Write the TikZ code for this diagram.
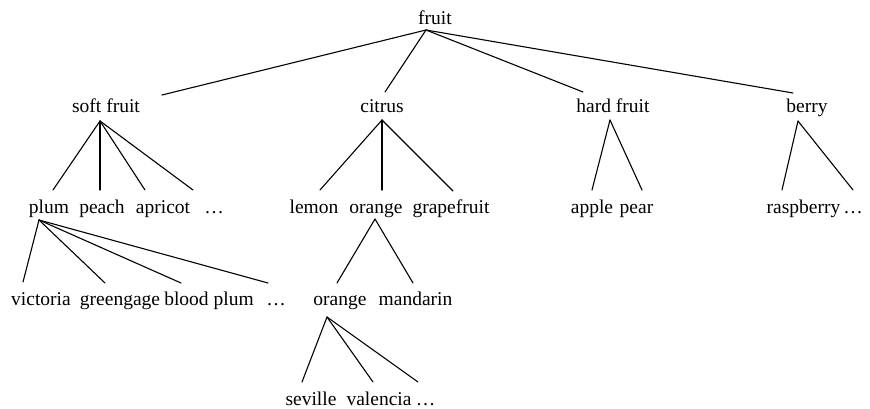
\documentclass[tikz,border=0pt]{standalone}
\usepackage{fontspec}
\setmainfont{Liberation Serif}
\begin{document}
\begin{tikzpicture}[x=1pt,y=1pt,
  lbl/.style={anchor=base,inner sep=0pt,outer sep=0pt,font=\fontsize{19.5}{23}\selectfont},
  edge/.style={line width=1.1pt,line cap=round,line join=round}]
\useasboundingbox (0,0) rectangle (870,-409);
% level 0
\node[lbl] (fruit) at (435,-25) {fruit};
% level 1
\node[lbl] (soft) at (106,-113) {soft fruit};
\node[lbl] (citrus) at (382,-113) {citrus};
\node[lbl] (hard) at (613,-113) {hard fruit};
\node[lbl] (berry) at (807,-113) {berry};
% level 2
\node[lbl] (plum) at (49,-213) {plum};
\node[lbl] (peach) at (102,-213) {peach};
\node[lbl] (apricot) at (163,-213) {apricot};
\node[lbl] (sdots) at (214,-213) {\ldots};
\node[lbl] (lemon) at (314,-213) {lemon};
\node[lbl] (orange) at (376,-213) {orange};
\node[lbl] (grapefruit) at (451,-213) {grapefruit};
\node[lbl] (apple) at (592,-213) {apple};
\node[lbl] (pear) at (636.5,-213) {pear};
\node[lbl] (raspberry) at (803.5,-213) {raspberry};
\node[lbl] (bdots) at (853,-213) {\ldots};
% level 3
\node[lbl] (victoria) at (41,-305) {victoria};
\node[lbl] (greengage) at (120,-305) {greengage};
\node[lbl] (blood) at (209,-305) {blood plum};
\node[lbl] (pdots) at (276,-305) {\ldots};
\node[lbl] (orange2) at (340,-305) {orange};
\node[lbl] (mandarin) at (415.5,-305) {mandarin};
% level 4
\node[lbl] (seville) at (311,-405) {seville};
\node[lbl] (valencia) at (379,-405) {valencia};
\node[lbl] (odots) at (425.5,-405) {\ldots};
% connectors level 0 -> 1
\draw[edge] ([shift={(-9,-5)}]fruit.base) -- ([shift={(56,18)}]soft.base);
\draw[edge] ([shift={(-9,-5)}]fruit.base) -- ([shift={(3,21)}]citrus.base);
\draw[edge] ([shift={(-9,-5)}]fruit.base) -- ([shift={(-30,21)}]hard.base);
\draw[edge] ([shift={(-9,-5)}]fruit.base) -- ([shift={(-14,20)}]berry.base);
% soft fruit
\draw[edge] ([shift={(-6,-8)}]soft.base) -- ([shift={(4,23)}]plum.base);
\draw[edge] ([shift={(-6,-8)}]soft.base) -- ([shift={(-2,23)}]peach.base);
\draw[edge] ([shift={(-6,-8)}]soft.base) -- ([shift={(-18,23)}]apricot.base);
\draw[edge] ([shift={(-6,-8)}]soft.base) -- ([shift={(-21,23)}]sdots.base);
% citrus
\draw[edge] ([shift={(0,-7)}]citrus.base) -- ([shift={(6,23)}]lemon.base);
\draw[edge] ([shift={(0,-7)}]citrus.base) -- ([shift={(6,23)}]orange.base);
\draw[edge] ([shift={(0,-7)}]citrus.base) -- ([shift={(2,22)}]grapefruit.base);
% hard fruit
\draw[edge] ([shift={(-3,-7)}]hard.base) -- ([shift={(0,23)}]apple.base);
\draw[edge] ([shift={(-3,-7)}]hard.base) -- ([shift={(5.5,23)}]pear.base);
% berry
\draw[edge] ([shift={(-9,-8)}]berry.base) -- ([shift={(-21.5,23)}]raspberry.base);
\draw[edge] ([shift={(-9,-8)}]berry.base) -- ([shift={(0,23)}]bdots.base);
% plum
\draw[edge] ([shift={(-10,-7)}]plum.base) -- ([shift={(-18,23)}]victoria.base);
\draw[edge] ([shift={(-10,-7)}]plum.base) -- ([shift={(-15,22)}]greengage.base);
\draw[edge] ([shift={(-10,-7)}]plum.base) -- ([shift={(-28,22)}]blood.base);
\draw[edge] ([shift={(-10,-7)}]plum.base) -- ([shift={(-8,22)}]pdots.base);
% orange
\draw[edge] ([shift={(-1,-6)}]orange.base) -- ([shift={(-3,22)}]orange2.base);
\draw[edge] ([shift={(-1,-6)}]orange.base) -- ([shift={(-2.5,22)}]mandarin.base);
% orange2
\draw[edge] ([shift={(-13,-12)}]orange2.base) -- ([shift={(-9,23)}]seville.base);
\draw[edge] ([shift={(-13,-12)}]orange2.base) -- ([shift={(-6,23)}]valencia.base);
\draw[edge] ([shift={(-13,-12)}]orange2.base) -- ([shift={(-7.5,23)}]odots.base);
\end{tikzpicture}
\end{document}
